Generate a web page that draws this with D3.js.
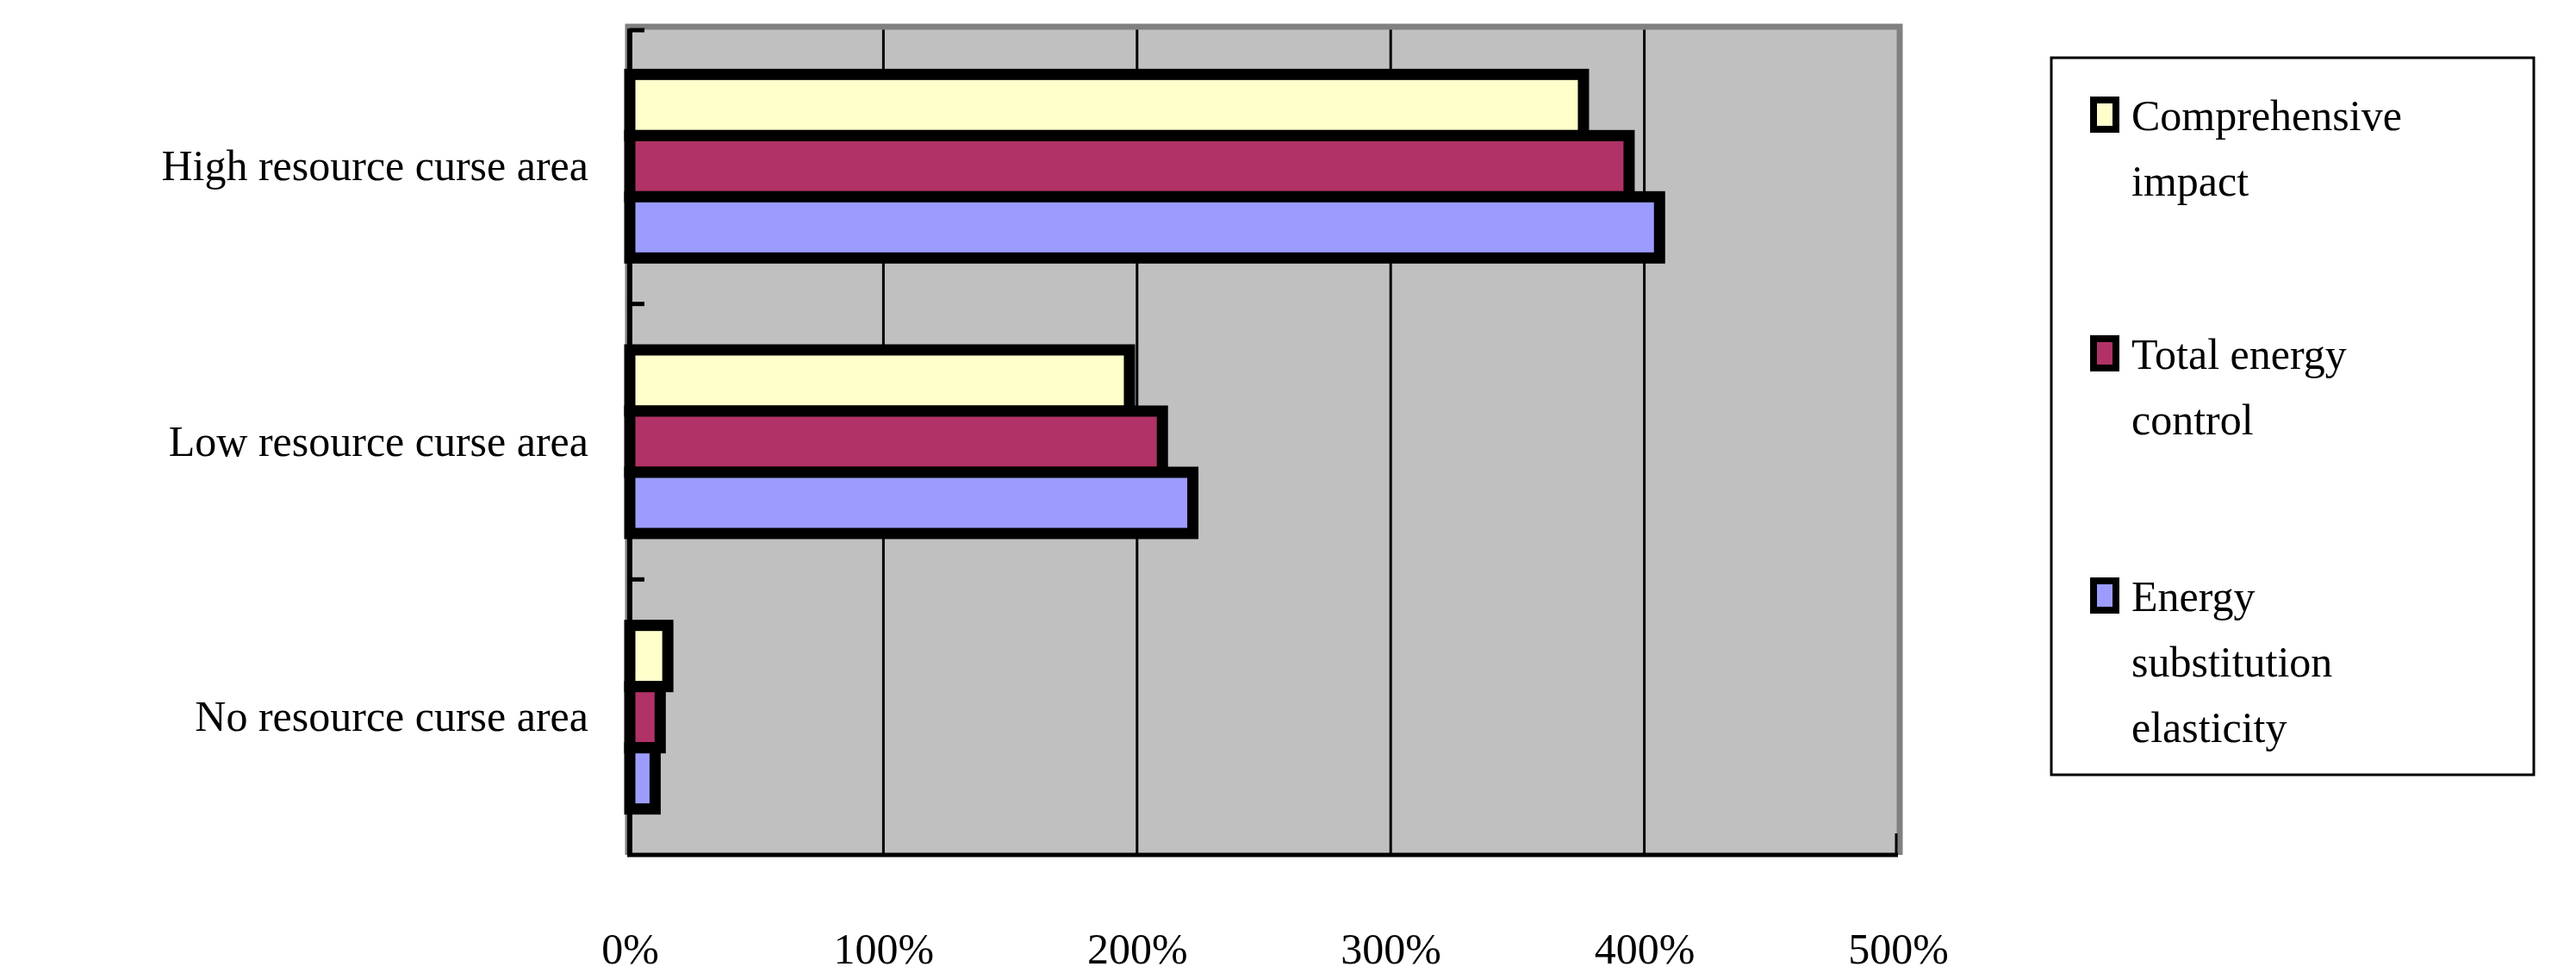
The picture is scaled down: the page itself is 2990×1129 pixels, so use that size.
<!DOCTYPE html>
<html><head><meta charset="utf-8">
<script src="https://cdn.jsdelivr.net/npm/d3@7"></script>
<style>body{margin:0;background:#fff}</style></head>
<body><svg id="c" width="2990" height="1129"></svg>
<script>
const categories = ["High resource curse area","Low resource curse area","No resource curse area"];
const seriesNames = ["Comprehensive impact","Total energy control","Energy substitution elasticity"];
const comprehensive = [3.76, 1.97, 0.15];
const totalControl = [3.94, 2.10, 0.12];
const substitution = [4.06, 2.22, 0.10];
const xTicks = [0,1,2,3,4,5];
const colors = ["#ffffcc","#b03266","#9c9cff"];
const legendLines = [["Comprehensive","impact"],["Total energy","control"],["Energy","substitution","elasticity"]];

const svg = d3.select("#c");
const font = "'Liberation Serif','Times New Roman',serif";
const L=731,R=2203,T=33,B=992;
const x = d3.scaleLinear().domain([0,5]).range([L,R]);
const y = d3.scaleBand().domain(categories).range([T,B]);
const inner = d3.scaleBand().domain([0,1,2]).range([0,213]);

svg.append("rect").attr("x",L).attr("y",T).attr("width",R-L).attr("height",B-T).attr("fill","#c0c0c0");
svg.append("g").selectAll("line").data(xTicks.slice(1,5)).join("line")
  .attr("x1",d=>x(d)).attr("x2",d=>x(d)).attr("y1",T).attr("y2",B).attr("stroke","#000").attr("stroke-width",3);
// frame
svg.append("path").attr("d",`M${L-2},${B}V${T-2}H${R+2}V${B}`).attr("fill","none").attr("stroke","#808080").attr("stroke-width",7);
const series=[comprehensive,totalControl,substitution];
categories.forEach((c,ci)=>{
  const g0 = y(c)+(y.bandwidth()-213)/2;
  series.forEach((s,si)=>{
    svg.append("rect").attr("x",x(0)).attr("y",g0+inner(si)).attr("width",x(s[ci])-x(0)).attr("height",inner.bandwidth())
      .attr("fill",colors[si]).attr("stroke","#000").attr("stroke-width",13);
  });
});
svg.append("line").attr("x1",L).attr("x2",L).attr("y1",T).attr("y2",B).attr("stroke","#000").attr("stroke-width",6);
svg.append("line").attr("x1",L-3).attr("x2",R).attr("y1",B).attr("y2",B).attr("stroke","#000").attr("stroke-width",5);
[T+2,y(categories[1]),y(categories[2])].forEach(v=>svg.append("line").attr("x1",L).attr("x2",L+17).attr("y1",v).attr("y2",v).attr("stroke","#000").attr("stroke-width",5));
svg.append("line").attr("x1",R-2).attr("x2",R-2).attr("y1",B-25).attr("y2",B).attr("stroke","#000").attr("stroke-width",3);

const xa = svg.append("g").attr("transform",`translate(0,${B})`).call(d3.axisBottom(x).tickValues(xTicks).tickSize(0).tickPadding(90).tickFormat(d=>d*100+"%"));
xa.select(".domain").remove();
xa.selectAll("text").attr("font-family",font).attr("font-size",50).attr("fill","#000");
const ya = svg.append("g").attr("transform",`translate(${L-48},0)`).call(d3.axisLeft(y).tickSize(0).tickPadding(0));
ya.select(".domain").remove();
ya.selectAll("text").attr("font-family",font).attr("font-size",50).attr("fill","#000");

svg.append("rect").attr("x",2381).attr("y",67).attr("width",560).attr("height",832).attr("fill","#fff").attr("stroke","#000").attr("stroke-width",3);
const lt=[133,410,691];
legendLines.forEach((ls,i)=>{
  svg.append("rect").attr("x",2430).attr("y",lt[i]-17).attr("width",26).attr("height",34).attr("fill",colors[i]).attr("stroke","#000").attr("stroke-width",8);
  ls.forEach((t,j)=>svg.append("text").attr("x",2474).attr("y",lt[i]+j*76).attr("dy","0.35em")
    .attr("font-family",font).attr("font-size",50).text(t));
});
</script></body></html>
